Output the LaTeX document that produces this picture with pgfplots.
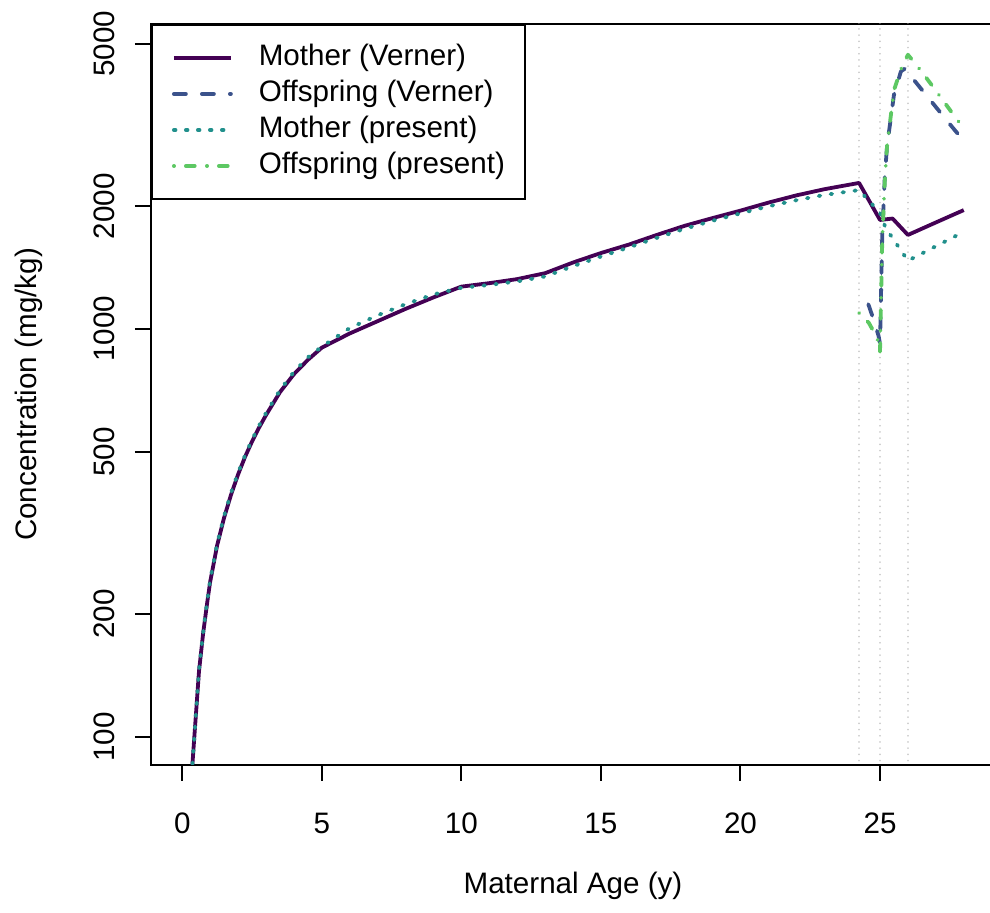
\documentclass[border=0pt]{standalone}
\usepackage{fontspec}
\setmainfont{Liberation Sans}
\usepackage{pgfplots}
\pgfplotsset{compat=1.18}

\definecolor{motherV}{HTML}{440154}
\definecolor{offV}{HTML}{3B528B}
\definecolor{motherP}{HTML}{21908C}
\definecolor{offP}{HTML}{5DC863}

\newcommand{\lblfont}{\fontsize{14.8}{17}\selectfont}

\begin{document}
\begin{tikzpicture}
\begin{axis}[
  at={(0pt,0pt)}, anchor=south west,
  scale only axis, width=422pt, height=370.5pt,
  xmin=-1.12, xmax=29.12,
  ymode=log, ymin=85.4, ymax=5590,
  xtick={0,5,10,15,20,25}, xticklabels={0,5,10,15,20,25},
  ytick={100,200,500,1000,2000,5000},
  yticklabels={100,200,500,1000,2000,5000},
  minor tick num=0,
  tick pos=left, tick align=outside, major tick length=8pt,
  tick style={black, line width=1pt},
  axis line style={line width=1pt},
  /pgf/number format/assume math mode=true,
  tick label style={font=\lblfont},
  xticklabel style={anchor=north, inner sep=0pt},
  xticklabel shift=16pt,
  yticklabel style={rotate=90, anchor=south, inner sep=0pt},
  yticklabel shift=10pt,
  label style={font=\lblfont},
  xlabel={Maternal Age (y)},
  ylabel={Concentration (mg/kg)},
  xlabel style={at={([yshift=-60.5pt]axis description cs:0.5,0)}, anchor=center},
  ylabel style={at={([xshift=-61pt]axis description cs:0,0.5)}, anchor=center},
  legend cell align=left,
  legend image code/.code={\draw[#1] (0pt,0pt) -- (28.5pt,0pt);},
  legend style={at={(0,1)}, anchor=north west, draw=black, line width=1pt,
    fill=white, inner xsep=10pt, inner ysep=9.25pt, row sep=3.5pt,
    font=\lblfont,
    nodes={inner sep=0pt, text height=11pt, text depth=3.5pt},
    /tikz/every odd column/.append style={column sep=13pt}},
]

% pregnancy / birth / weaning markers
\addplot[gray!40, line width=0.8pt, line cap=round, dash pattern=on 0.1pt off 3pt, forget plot]
  coordinates {(24.25,50) (24.25,10000)};
\addplot[gray!40, line width=0.8pt, line cap=round, dash pattern=on 0.1pt off 3pt, forget plot]
  coordinates {(25,50) (25,10000)};
\addplot[gray!40, line width=0.8pt, line cap=round, dash pattern=on 0.1pt off 3pt, forget plot]
  coordinates {(26,50) (26,10000)};

% Mother (Verner)
\addplot[motherV, line width=1.9pt, line join=round] coordinates {
  (0.20,50) (0.30,72) (0.36,85) (0.45,104) (0.60,145) (0.75,180) (0.90,215)
  (1.00,240) (1.25,295) (1.50,345) (1.75,393) (2.00,440) (2.25,486)
  (2.50,530) (2.75,573) (3.00,615) (3.50,700) (4.00,775) (4.50,840) (5.00,900)
  (6.00,975) (7.00,1045) (8.00,1120) (9.00,1195) (10.00,1270) (11.00,1295)
  (12.00,1325) (13.00,1370) (14.00,1455) (15.00,1535) (16.00,1610)
  (17.00,1700) (18.00,1790) (19.00,1870) (20.00,1950) (21.00,2040)
  (22.00,2125) (23.00,2200) (24.25,2280) (25.00,1850) (25.45,1865)
  (26.00,1700) (26.50,1761) (27.00,1824) (27.50,1889) (28.00,1956)
};
\addlegendentry{Mother (Verner)}

% Offspring (Verner)
\addplot[offV, line width=1.9pt, line cap=round, line join=round, dash pattern=on 6pt off 8pt] coordinates {
  (24.58,1150) (24.80,1040) (24.95,960) (25.00,920) (25.08,1700) (25.17,2350)
  (25.25,2800) (25.50,3750) (25.75,4280) (25.90,4350) (26.00,4250)
  (26.50,3857) (27.00,3500) (27.50,3177) (28.00,2890)
};
\addlegendentry{Offspring (Verner)}

% Mother (present)
\addplot[motherP, line width=1.9pt, line cap=round, dash pattern=on 0.8pt off 5.2pt] coordinates {
  (0.20,50) (0.30,72) (0.36,85) (0.45,104) (0.60,146) (0.75,181) (0.90,217)
  (1.00,242) (1.25,298) (1.50,348) (1.75,397) (2.00,444) (2.25,490)
  (2.50,535) (2.75,579) (3.00,622) (3.50,708) (4.00,785) (4.50,852) (5.00,905)
  (6.00,1005) (7.00,1080) (8.00,1150) (9.00,1215) (10.00,1262) (11.00,1282)
  (12.00,1308) (13.00,1345) (14.00,1425) (15.00,1505) (16.00,1585)
  (17.00,1672) (18.00,1760) (19.00,1842) (20.00,1920) (21.00,1998)
  (22.00,2068) (23.00,2130) (24.25,2190) (25.00,1925) (25.20,1770)
  (26.00,1470) (26.50,1531) (27.00,1595) (27.50,1661) (28.00,1730)
};
\addlegendentry{Mother (present)}

% Offspring (present)
\addplot[offP, line width=1.9pt, line cap=round, line join=round, dash pattern=on 0.1pt off 5.9pt on 4.4pt off 6.1pt] coordinates {
  (24.25,1095) (24.60,1035) (24.90,950) (25.00,880) (25.08,1650) (25.17,2300)
  (25.25,2800) (25.50,3850) (25.75,4330) (26.00,4700) (26.50,4266)
  (27.00,3838) (27.50,3446) (28.00,3100)
};
\addlegendentry{Offspring (present)}

\end{axis}
\pgfresetboundingbox
\useasboundingbox (-75.5pt,-73.5pt) rectangle (419.5pt,382.5pt);
\end{tikzpicture}
\end{document}
